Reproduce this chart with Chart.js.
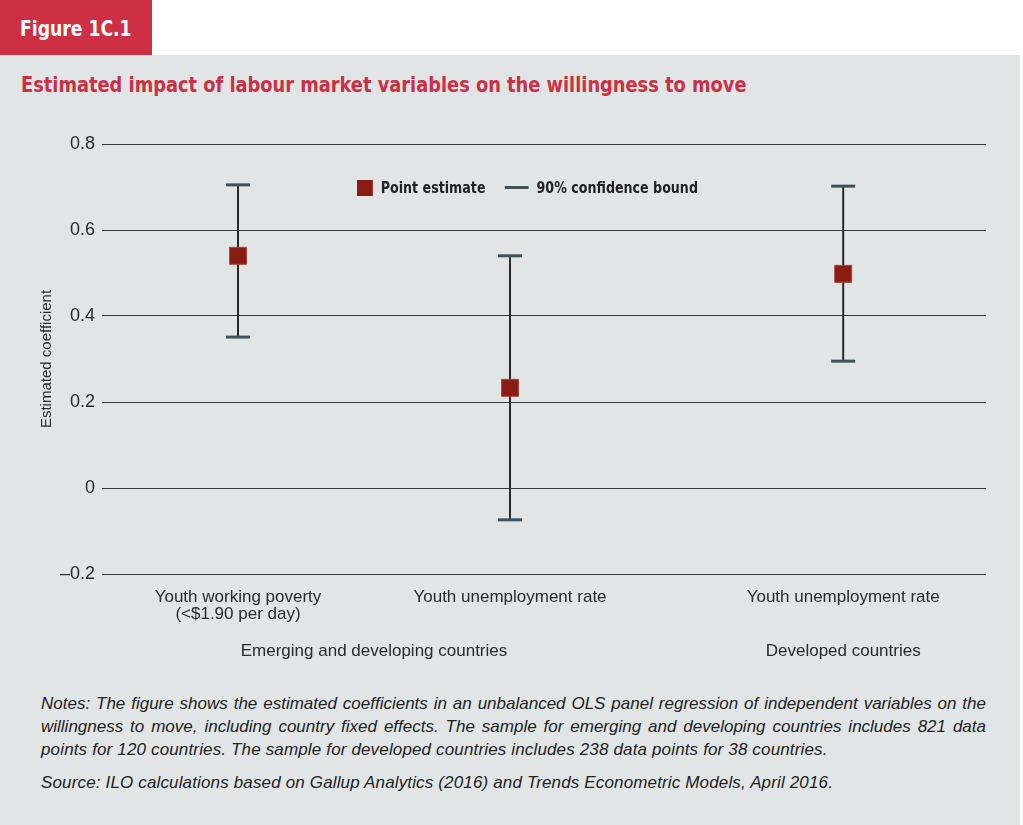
<!DOCTYPE html>
<html>
<head>
<meta charset="utf-8">
<script src="https://cdn.jsdelivr.net/npm/chart.js@4.4.1/dist/chart.umd.min.js"></script>
<style>
  body { margin: 0; background: #fff; width: 1023px; height: 825px; position: relative; overflow: hidden; font-family: "Liberation Sans", Arial, sans-serif; }
  .tag { position: absolute; left: 0; top: 0; width: 152px; height: 55px; background: #cd2f44; }
  .tag span { position: absolute; left: 20px; top: 0; color: #fff; white-space: nowrap;
              font: bold 22px "Liberation Sans Narrow", "DejaVu Sans Condensed", sans-serif; line-height: 57px;
              transform: scaleX(0.87); transform-origin: left center; }
  .panel { position: absolute; left: 0; top: 55px; width: 1020px; height: 770px; background: #e1e5e6; }
  .title { position: absolute; left: 21px; top: 72px; color: #cd2f44; white-space: nowrap;
           font: bold 22px "Liberation Sans Narrow", "DejaVu Sans Condensed", sans-serif; transform: scaleX(0.9); transform-origin: left center; }
  #wrap { position: absolute; left: 0; top: 100px; }
  .legend { position: absolute; top: 178px; left: 357px; font: bold 16px "Liberation Sans Narrow", "DejaVu Sans Condensed", sans-serif;
            color: #222; display: flex; align-items: center; white-space: nowrap; transform: scaleX(0.88); transform-origin: left center; }
  .sq { width: 18px; height: 16px; background: #8b1c14; margin-right: 9px; }
  .dash { width: 27px; height: 3px; background: #3e525a; margin: 0 9px 0 22px; }
  .notes { position: absolute; left: 41px; top: 692px; width: 945px; font: italic 17px "Liberation Sans", Arial, sans-serif;
           color: #222; line-height: 23px; letter-spacing: 0.15px; }
  .j { text-align: justify; text-align-last: justify; letter-spacing: 0; }
  .src { margin-top: 10px; }
</style>
</head>
<body>
<div class="panel"></div>
<div class="tag"><span>Figure 1C.1</span></div>
<div class="title">Estimated impact of labour market variables on the willingness to move</div>
<div id="wrap"><canvas id="chart" width="1023" height="580"></canvas></div>
<div class="legend"><div class="sq"></div>Point estimate<div class="dash"></div>90% confidence bound</div>
<div class="notes">
  <div class="j">Notes: The figure shows the estimated coefficients in an unbalanced OLS panel regression of independent variables on the</div>
  <div class="j">willingness to move, including country fixed effects. The sample for emerging and developing countries includes 821 data</div>
  <div>points for 120 countries. The sample for developed countries includes 238 data points for 38 countries.</div>
  <div class="src">Source: ILO calculations based on Gallup Analytics (2016) and Trends Econometric Models, April 2016.</div>
</div>
<script>
const categories = [["Youth working poverty", "(<$1.90 per day)"], ["Youth unemployment rate"], ["Youth unemployment rate"]];
const xSlots = [1, 3, 5.45];
const estimates = [0.54, 0.233, 0.498];
const lowerBounds = [0.351, -0.074, 0.295];
const upperBounds = [0.705, 0.54, 0.702];
const yTickLabels = { "-0.2": "\u20130.2", "0": "0", "0.2": "0.2", "0.4": "0.4", "0.6": "0.6", "0.8": "0.8" };
const groups = [
  { label: "Emerging and developing countries", from: 1, to: 3 },
  { label: "Developed countries", from: 5.45, to: 5.45 }
];

const pointData = xSlots.map((x, i) => ({ x: x, y: estimates[i] }));
const barData = [];
xSlots.forEach((x, i) => {
  barData.push({ x: x, y: lowerBounds[i] }, { x: x, y: upperBounds[i] }, { x: x, y: null });
});

// group captions under the category labels
const groupLabels = {
  id: "groupLabels",
  afterDraw(chart) {
    const c = chart.ctx, xs = chart.scales.x;
    c.save();
    c.font = "17px 'Liberation Sans', Arial, sans-serif";
    c.fillStyle = "#2a2a2a";
    c.textAlign = "center";
    c.textBaseline = "middle";
    groups.forEach(g => {
      const px = (xs.getPixelForValue(g.from) + xs.getPixelForValue(g.to)) / 2;
      c.fillText(g.label, px, 551);
    });
    c.restore();
  }
};

new Chart(document.getElementById("chart"), {
  type: "scatter",
  data: {
    datasets: [
      {
        data: pointData,
        order: 0,
        pointStyle: "rect",
        pointRadius: 12,
        pointHoverRadius: 12,
        backgroundColor: "#8b1c14",
        borderColor: "#a8443a",
        borderWidth: 1
      },
      {
        data: barData,
        order: 1,
        showLine: true,
        spanGaps: false,
        borderColor: "#2a2a2a",
        borderWidth: 2,
        pointStyle: "line",
        pointRadius: 12,
        pointHoverRadius: 12,
        pointBorderColor: "#3e525a",
        pointBorderWidth: 3
      }
    ]
  },
  options: {
    responsive: false,
    animation: false,
    devicePixelRatio: 1,
    layout: { padding: { left: 38, right: 37, top: 44, bottom: 0 } },
    plugins: { legend: { display: false }, tooltip: { enabled: false } },
    scales: {
      x: {
        type: "linear",
        min: 0,
        max: 6.5,
        afterBuildTicks: axis => { axis.ticks = xSlots.map(v => ({ value: v })); },
        afterFit: axis => { axis.height = 106; },
        grid: { display: false, drawTicks: false },
        border: { display: false },
        ticks: {
          padding: 15,
          color: "#2a2a2a",
          font: { family: "'Liberation Sans', Arial, sans-serif", size: 17, lineHeight: 1.0 },
          maxRotation: 0,
          callback: (v) => { const i = xSlots.indexOf(v); return i >= 0 ? categories[i] : ""; }
        }
      },
      y: {
        min: -0.2,
        max: 0.8,
        afterFit: axis => { axis.width = 64; },
        grid: { color: "#3a3a3a", lineWidth: 1, drawTicks: false },
        border: { display: false },
        ticks: {
          stepSize: 0.2,
          padding: 7,
          color: "#2a2a2a",
          font: { family: "'Liberation Sans', Arial, sans-serif", size: 18 },
          callback: v => yTickLabels[String(Math.round(v * 10) / 10)]
        },
        title: {
          display: true,
          text: "Estimated coefficient",
          color: "#2a2a2a",
          padding: 0,
          font: { family: "'Liberation Sans', Arial, sans-serif", size: 15 }
        }
      }
    }
  },
  plugins: [groupLabels]
});
</script>
</body>
</html>
